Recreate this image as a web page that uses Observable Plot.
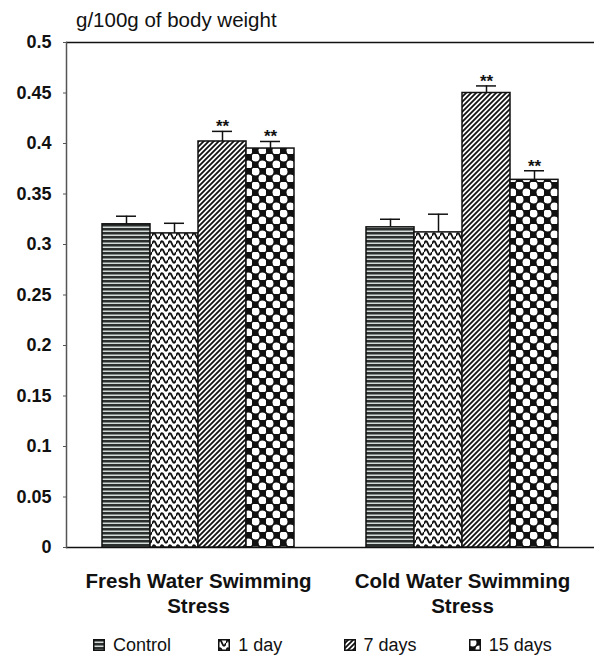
<!DOCTYPE html>
<html>
<head>
<meta charset="utf-8">
<script src="https://cdn.jsdelivr.net/npm/d3@7"></script>
<script src="https://cdn.jsdelivr.net/npm/@observablehq/plot@0.6"></script>
<style>
  html, body { margin: 0; padding: 0; background: #fff; }
  body { width: 594px; height: 657px; overflow: hidden; font-family: "Liberation Sans", Arial, sans-serif; }
  #wrap { position: relative; width: 594px; }
  #title { position: absolute; top: 0; left: 76px; height: 40px; line-height: 40px; font-size: 20.5px; color: #111; }
  #legend { display: flex; padding-left: 93px; height: 46px; line-height: 46px; font-size: 18px; color: #111; }
  .item { width: 127px; display: flex; align-items: center; white-space: nowrap; }
  .item svg { margin-right: 8px; flex: none; }
</style>
</head>
<body>
<div id="wrap">
  <div id="title"></div>
  <div id="chart"></div>
  <div id="legend"></div>
</div>
<script>
// ---- data ----
const groups = ["Fresh Water Swimming Stress", "Cold Water Swimming Stress"];
const groupLabels = ["Fresh Water Swimming\nStress", "Cold Water Swimming\nStress"];
const series = ["Control", "1 day", "7 days", "15 days"];
const freshValues = [0.320, 0.311, 0.402, 0.395];
const freshErrors = [0.008, 0.010, 0.010, 0.007];
const freshSignif = ["", "", "**", "**"];
const coldValues = [0.317, 0.312, 0.450, 0.364];
const coldErrors = [0.008, 0.018, 0.007, 0.009];
const coldSignif = ["", "", "**", "**"];
const yTicks = [0, 0.05, 0.1, 0.15, 0.2, 0.25, 0.3, 0.35, 0.4, 0.45, 0.5];
const yTickLabels = ["0", "0.05", "0.1", "0.15", "0.2", "0.25", "0.3", "0.35", "0.4", "0.45", "0.5"];
const yDomain = [0, 0.5];
const yTitle = "g/100g of body weight";

const patternIds = ["pat-control", "pat-1day", "pat-7days", "pat-15days"];

const table = [];
[[freshValues, freshErrors, freshSignif], [coldValues, coldErrors, coldSignif]].forEach(([vals, errs, sig], gi) => {
  series.forEach((s, si) => {
    table.push({group: groups[gi], series: s, value: vals[si], err: errs[si], top: vals[si] + errs[si], sig: sig[si]});
  });
});

document.getElementById("title").textContent = yTitle;

const font = "'Liberation Sans', Arial, sans-serif";

const chart = Plot.plot({
  width: 594,
  height: 622,
  marginTop: 42,
  marginBottom: 75,
  marginLeft: 66,
  marginRight: 0,
  style: {fontFamily: font, background: "transparent", color: "#111"},
  fx: {domain: groups, padding: 0, label: null},
  x: {domain: series, paddingInner: 0, paddingOuter: 0.75, axis: null},
  y: {domain: yDomain, label: null},
  color: {domain: series, range: patternIds.map(id => `url(#${id})`)},
  marks: [
    Plot.ruleY(yDomain, {stroke: "#111", strokeWidth: 1.7}),
    Plot.barY(table, {fx: "group", x: "series", y: "value", fill: "series", stroke: "#111", strokeWidth: 1.5}),
    Plot.ruleX(table, {fx: "group", x: "series", y1: "value", y2: "top", stroke: "#111", strokeWidth: 1.5}),
    Plot.tickY(table, {fx: "group", x: "series", y: "top", stroke: "#111", strokeWidth: 1.5, insetLeft: 14, insetRight: 14}),
    Plot.text(table.filter(d => d.sig), {fx: "group", x: "series", y: "top", text: "sig", lineAnchor: "bottom", dy: 1, fontSize: 17, fontWeight: "bold", fill: "#111"}),
    Plot.frame({anchor: "left", facet: "super", stroke: "#555", strokeWidth: 1.5}),
    Plot.axisY({ticks: yTicks, tickFormat: d => yTickLabels[yTicks.indexOf(d)], tickSize: 3, tickPadding: 12, fontSize: 18, fontWeight: "bold", label: null, stroke: "#555"}),
    Plot.axisFx({anchor: "bottom", tickSize: 0, tickPadding: 23, tickFormat: d => groupLabels[groups.indexOf(d)], fontSize: 20.5, fontWeight: "bold", lineHeight: 1.2, label: null})
  ]
});

// pattern definitions (styles only)
const defs = document.createElementNS("http://www.w3.org/2000/svg", "defs");
defs.innerHTML = `
  <pattern id="pat-control" patternUnits="userSpaceOnUse" width="6" height="4">
    <rect width="6" height="4" fill="#d3dad8"/>
    <rect y="0" width="6" height="2.5" fill="#2b302f"/>
  </pattern>
  <pattern id="pat-1day" patternUnits="userSpaceOnUse" width="8" height="8">
    <rect width="8" height="8" fill="#fff"/>
    <path d="M0 4 Q2 -1.5 4 4 T8 4" stroke="#111" stroke-width="1.9" fill="none"/>
  </pattern>
  <pattern id="pat-7days" patternUnits="userSpaceOnUse" width="5" height="5">
    <rect width="5" height="5" fill="#fff"/>
    <path d="M0 5 L5 0 M-1 1 L1 -1 M4 6 L6 4" stroke="#111" stroke-width="1.8"/>
  </pattern>
  <pattern id="pat-15days" patternUnits="userSpaceOnUse" width="14" height="14">
    <rect width="14" height="14" fill="#111"/>
    <circle cx="3.5" cy="3.5" r="4" fill="#fff"/>
    <circle cx="10.5" cy="10.5" r="4" fill="#fff"/>
  </pattern>`;
chart.insertBefore(defs, chart.firstChild);
document.getElementById("chart").appendChild(chart);

// legend
const legend = document.getElementById("legend");
series.forEach((s, i) => {
  const item = document.createElement("div");
  item.className = "item";
  item.innerHTML = `<svg width="12" height="12"><rect x="0.75" y="0.75" width="10.5" height="10.5" fill="url(#${patternIds[i]})" stroke="#111" stroke-width="1.5"/></svg><span></span>`;
  item.querySelector("span").textContent = s;
  legend.appendChild(item);
});
</script>
</body>
</html>
